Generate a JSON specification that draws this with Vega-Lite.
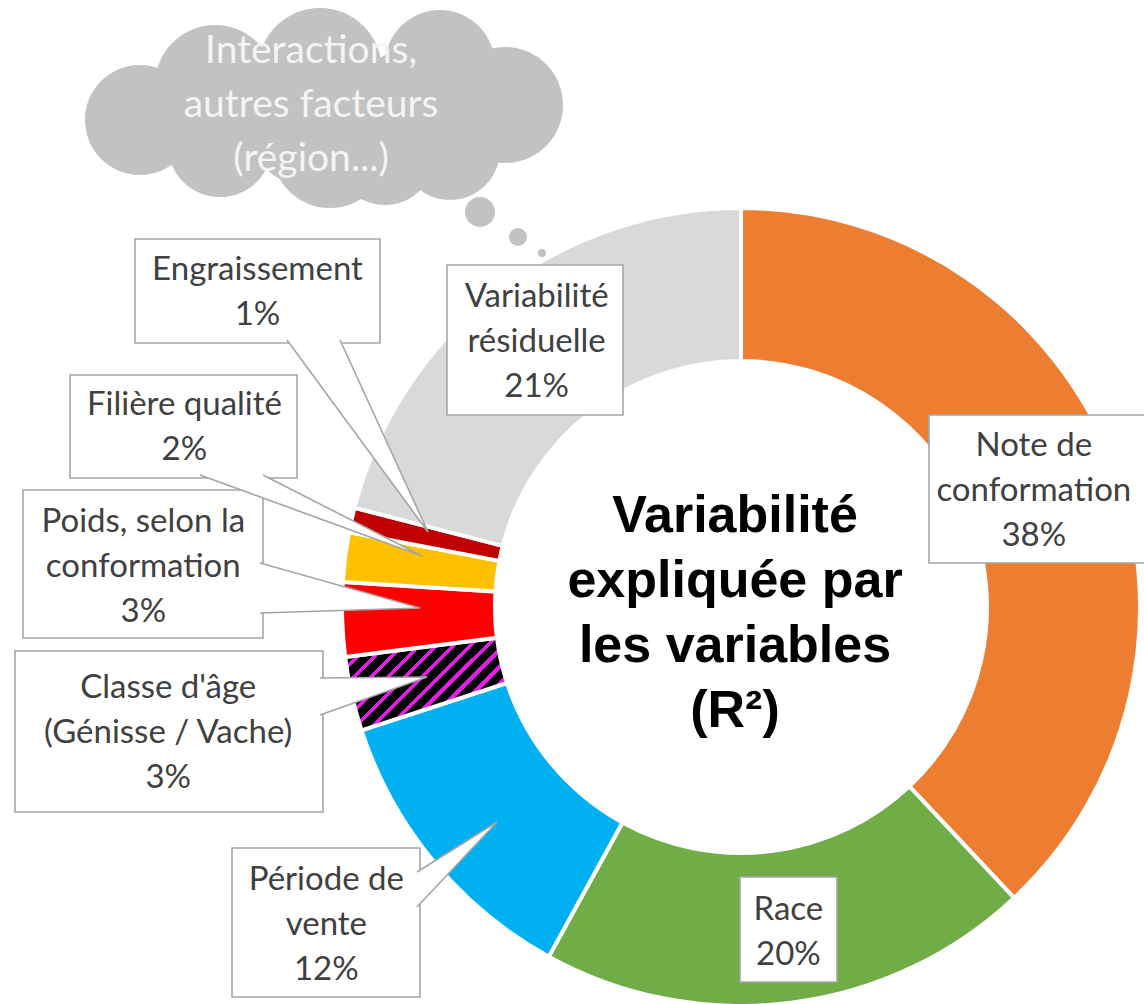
{
  "$schema": "https://vega.github.io/schema/vega-lite/v6.json",
  "width": 800,
  "height": 780,
  "autosize": "none",
  "padding": {"left": 341, "top": 217, "right": 3, "bottom": 7},
  "background": "#ffffff",
  "config": {"view": {"stroke": null}},
  "datasets": {
    "parts": [
      {"cat": "Note de conformation", "ord": 1, "value": 38, "label": "Note de\nconformation\n38%"},
      {"cat": "Race", "ord": 2, "value": 20, "label": "Race\n20%"},
      {"cat": "Période de vente", "ord": 3, "value": 12, "label": "Période de\nvente\n12%"},
      {"cat": "Classe d'âge", "ord": 4, "value": 3, "label": "Classe d'âge\n(Génisse / Vache)\n3%"},
      {"cat": "Poids, selon la conformation", "ord": 5, "value": 3, "label": "Poids, selon la\nconformation\n3%"},
      {"cat": "Filière qualité", "ord": 6, "value": 2, "label": "Filière qualité\n2%"},
      {"cat": "Engraissement", "ord": 7, "value": 1, "label": "Engraissement\n1%"},
      {"cat": "Variabilité résiduelle", "ord": 8, "value": 21, "label": "Variabilité\nrésiduelle\n21%"}
    ],
    "one": [{}]
  },
  "layer": [
    {
      "data": {"name": "parts"},
      "mark": {"type": "arc", "innerRadius": 246, "outerRadius": 399, "stroke": "#ffffff", "strokeWidth": 4},
      "encoding": {
        "theta": {"field": "value", "type": "quantitative", "stack": true},
        "order": {"field": "ord", "type": "quantitative"},
        "color": {
          "condition": {"test": "datum.ord === 4", "value": {
            "gradient": "linear", "x1": 0, "y1": 0, "x2": 1.185, "y2": 0.677,
            "stops": [
              {"offset": 0, "color": "#000000"}, {"offset": 0.0445, "color": "#000000"}, {"offset": 0.0445, "color": "#E81CE8"}, {"offset": 0.0667, "color": "#E81CE8"},
              {"offset": 0.0667, "color": "#000000"}, {"offset": 0.1111, "color": "#000000"}, {"offset": 0.1111, "color": "#E81CE8"}, {"offset": 0.1333, "color": "#E81CE8"},
              {"offset": 0.1333, "color": "#000000"}, {"offset": 0.1778, "color": "#000000"}, {"offset": 0.1778, "color": "#E81CE8"}, {"offset": 0.2, "color": "#E81CE8"},
              {"offset": 0.2, "color": "#000000"}, {"offset": 0.2445, "color": "#000000"}, {"offset": 0.2445, "color": "#E81CE8"}, {"offset": 0.2667, "color": "#E81CE8"},
              {"offset": 0.2667, "color": "#000000"}, {"offset": 0.3111, "color": "#000000"}, {"offset": 0.3111, "color": "#E81CE8"}, {"offset": 0.3333, "color": "#E81CE8"},
              {"offset": 0.3333, "color": "#000000"}, {"offset": 0.3778, "color": "#000000"}, {"offset": 0.3778, "color": "#E81CE8"}, {"offset": 0.4, "color": "#E81CE8"},
              {"offset": 0.4, "color": "#000000"}, {"offset": 0.4445, "color": "#000000"}, {"offset": 0.4445, "color": "#E81CE8"}, {"offset": 0.4667, "color": "#E81CE8"},
              {"offset": 0.4667, "color": "#000000"}, {"offset": 0.5111, "color": "#000000"}, {"offset": 0.5111, "color": "#E81CE8"}, {"offset": 0.5333, "color": "#E81CE8"},
              {"offset": 0.5333, "color": "#000000"}, {"offset": 0.5778, "color": "#000000"}, {"offset": 0.5778, "color": "#E81CE8"}, {"offset": 0.6, "color": "#E81CE8"},
              {"offset": 0.6, "color": "#000000"}, {"offset": 0.6445, "color": "#000000"}, {"offset": 0.6445, "color": "#E81CE8"}, {"offset": 0.6667, "color": "#E81CE8"},
              {"offset": 0.6667, "color": "#000000"}, {"offset": 0.7111, "color": "#000000"}, {"offset": 0.7111, "color": "#E81CE8"}, {"offset": 0.7333, "color": "#E81CE8"},
              {"offset": 0.7333, "color": "#000000"}, {"offset": 0.7778, "color": "#000000"}, {"offset": 0.7778, "color": "#E81CE8"}, {"offset": 0.8, "color": "#E81CE8"},
              {"offset": 0.8, "color": "#000000"}, {"offset": 0.8445, "color": "#000000"}, {"offset": 0.8445, "color": "#E81CE8"}, {"offset": 0.8667, "color": "#E81CE8"},
              {"offset": 0.8667, "color": "#000000"}, {"offset": 0.9111, "color": "#000000"}, {"offset": 0.9111, "color": "#E81CE8"}, {"offset": 0.9333, "color": "#E81CE8"},
              {"offset": 0.9333, "color": "#000000"}, {"offset": 0.9778, "color": "#000000"}, {"offset": 0.9778, "color": "#E81CE8"}, {"offset": 1, "color": "#E81CE8"}
            ]
          }},
          "field": "cat", "type": "nominal",
          "scale": {
            "domain": ["Note de conformation", "Race", "Période de vente", "Classe d'âge", "Poids, selon la conformation", "Filière qualité", "Engraissement", "Variabilité résiduelle"],
            "range": ["#ED7D31", "#70AD47", "#00B0F0", "#000000", "#FF0000", "#FFC000", "#C00000", "#D9D9D9"]
          },
          "legend": null
        }
      }
    },
    {"data": {"name": "one"}, "mark": {"type": "rect", "fill": "#ffffff", "stroke": "#a5a5a5", "strokeWidth": 1.6}, "encoding": {"x": {"datum": 0.47, "type": "quantitative", "scale": {"domain": [-1, 1], "nice": false, "zero": false}, "axis": null}, "x2": {"datum": 1.0225}, "y": {"datum": 0.48, "type": "quantitative", "scale": {"domain": [-0.975, 0.975], "nice": false, "zero": false}, "axis": null}, "y2": {"datum": 0.11}}},
    {"data": {"name": "one"}, "mark": {"type": "rect", "fill": "#ffffff", "stroke": "#a5a5a5", "strokeWidth": 1.6}, "encoding": {"x": {"datum": -0.0025, "type": "quantitative", "scale": {"domain": [-1, 1], "nice": false, "zero": false}, "axis": null}, "x2": {"datum": 0.24}, "y": {"datum": -0.675, "type": "quantitative", "scale": {"domain": [-0.975, 0.975], "nice": false, "zero": false}, "axis": null}, "y2": {"datum": -0.9375}}},
    {"data": {"name": "one"}, "mark": {"type": "rect", "fill": "#ffffff", "stroke": "#a5a5a5", "strokeWidth": 1.6}, "encoding": {"x": {"datum": -0.735, "type": "quantitative", "scale": {"domain": [-1, 1], "nice": false, "zero": false}, "axis": null}, "x2": {"datum": -0.295}, "y": {"datum": 0.855, "type": "quantitative", "scale": {"domain": [-0.975, 0.975], "nice": false, "zero": false}, "axis": null}, "y2": {"datum": 0.48}}},
    {"data": {"name": "one"}, "mark": {"type": "rect", "fill": "#ffffff", "stroke": "#a5a5a5", "strokeWidth": 1.6}, "encoding": {"x": {"datum": -1.515, "type": "quantitative", "scale": {"domain": [-1, 1], "nice": false, "zero": false}, "axis": null}, "x2": {"datum": -0.9025}, "y": {"datum": 0.92, "type": "quantitative", "scale": {"domain": [-0.975, 0.975], "nice": false, "zero": false}, "axis": null}, "y2": {"datum": 0.66}}},
    {"data": {"name": "one"}, "mark": {"type": "rect", "fill": "#ffffff", "stroke": "#a5a5a5", "strokeWidth": 1.6}, "encoding": {"x": {"datum": -1.6775, "type": "quantitative", "scale": {"domain": [-1, 1], "nice": false, "zero": false}, "axis": null}, "x2": {"datum": -1.11}, "y": {"datum": 0.58, "type": "quantitative", "scale": {"domain": [-0.975, 0.975], "nice": false, "zero": false}, "axis": null}, "y2": {"datum": 0.3225}}},
    {"data": {"name": "one"}, "mark": {"type": "rect", "fill": "#ffffff", "stroke": "#a5a5a5", "strokeWidth": 1.6}, "encoding": {"x": {"datum": -1.795, "type": "quantitative", "scale": {"domain": [-1, 1], "nice": false, "zero": false}, "axis": null}, "x2": {"datum": -1.195}, "y": {"datum": 0.2925, "type": "quantitative", "scale": {"domain": [-0.975, 0.975], "nice": false, "zero": false}, "axis": null}, "y2": {"datum": -0.0775}}},
    {"data": {"name": "one"}, "mark": {"type": "rect", "fill": "#ffffff", "stroke": "#a5a5a5", "strokeWidth": 1.6}, "encoding": {"x": {"datum": -1.815, "type": "quantitative", "scale": {"domain": [-1, 1], "nice": false, "zero": false}, "axis": null}, "x2": {"datum": -1.045}, "y": {"datum": -0.11, "type": "quantitative", "scale": {"domain": [-0.975, 0.975], "nice": false, "zero": false}, "axis": null}, "y2": {"datum": -0.5125}}},
    {"data": {"name": "one"}, "mark": {"type": "rect", "fill": "#ffffff", "stroke": "#a5a5a5", "strokeWidth": 1.6}, "encoding": {"x": {"datum": -1.2725, "type": "quantitative", "scale": {"domain": [-1, 1], "nice": false, "zero": false}, "axis": null}, "x2": {"datum": -0.8025}, "y": {"datum": -0.6025, "type": "quantitative", "scale": {"domain": [-0.975, 0.975], "nice": false, "zero": false}, "axis": null}, "y2": {"datum": -0.975}}},
    {"data": {"name": "one"}, "mark": {"type": "point", "shape": "M-0.3525,-0.48L0,0L-0.22,-0.48", "filled": true, "fill": "#ffffff", "stroke": "#a5a5a5", "strokeWidth": 1.6, "opacity": 1, "size": 640000}, "encoding": {"x": {"datum": -0.7825, "type": "quantitative", "scale": {"domain": [-1, 1], "nice": false, "zero": false}, "axis": null}, "y": {"datum": 0.1875, "type": "quantitative", "scale": {"domain": [-0.975, 0.975], "nice": false, "zero": false}, "axis": null}}},
    {"data": {"name": "one"}, "mark": {"type": "point", "shape": "M-0.555,-0.2025L0,0L-0.3975,-0.2025", "filled": true, "fill": "#ffffff", "stroke": "#a5a5a5", "strokeWidth": 1.6, "opacity": 1, "size": 640000}, "encoding": {"x": {"datum": -0.7975, "type": "quantitative", "scale": {"domain": [-1, 1], "nice": false, "zero": false}, "axis": null}, "y": {"datum": 0.1275, "type": "quantitative", "scale": {"domain": [-0.975, 0.975], "nice": false, "zero": false}, "axis": null}}},
    {"data": {"name": "one"}, "mark": {"type": "point", "shape": "M-0.4,-0.1125L0,0L-0.4,0.0125", "filled": true, "fill": "#ffffff", "stroke": "#a5a5a5", "strokeWidth": 1.6, "opacity": 1, "size": 640000}, "encoding": {"x": {"datum": -0.8025, "type": "quantitative", "scale": {"domain": [-1, 1], "nice": false, "zero": false}, "axis": null}, "y": {"datum": -0.0025, "type": "quantitative", "scale": {"domain": [-0.975, 0.975], "nice": false, "zero": false}, "axis": null}}},
    {"data": {"name": "one"}, "mark": {"type": "point", "shape": "M-0.2675,0.0025L0,0L-0.2675,0.095", "filled": true, "fill": "#ffffff", "stroke": "#a5a5a5", "strokeWidth": 1.6, "opacity": 1, "size": 640000}, "encoding": {"x": {"datum": -0.785, "type": "quantitative", "scale": {"domain": [-1, 1], "nice": false, "zero": false}, "axis": null}, "y": {"datum": -0.175, "type": "quantitative", "scale": {"domain": [-0.975, 0.975], "nice": false, "zero": false}, "axis": null}}},
    {"data": {"name": "one"}, "mark": {"type": "point", "shape": "M-0.2,0.125L0,0L-0.2,0.2125", "filled": true, "fill": "#ffffff", "stroke": "#a5a5a5", "strokeWidth": 1.6, "opacity": 1, "size": 640000}, "encoding": {"x": {"datum": -0.61, "type": "quantitative", "scale": {"domain": [-1, 1], "nice": false, "zero": false}, "axis": null}, "y": {"datum": -0.5375, "type": "quantitative", "scale": {"domain": [-0.975, 0.975], "nice": false, "zero": false}, "axis": null}}},
    {"data": {"name": "one"}, "mark": {"type": "point", "shape": "M-1,0.058a0.229,0.229 0 1,0 0.458,0a0.229,0.229 0 1,0 -0.458,0ZM-0.708,-0.0875a0.25,0.25 0 1,0 0.5,0a0.25,0.25 0 1,0 -0.5,0ZM-0.279,-0.15a0.258,0.258 0 1,0 0.516,0a0.258,0.258 0 1,0 -0.516,0ZM0.25,-0.171a0.229,0.229 0 1,0 0.458,0a0.229,0.229 0 1,0 -0.458,0ZM0.508,-0.004a0.242,0.242 0 1,0 0.484,0a0.242,0.242 0 1,0 -0.484,0ZM0.313,0.183a0.208,0.208 0 1,0 0.416,0a0.208,0.208 0 1,0 -0.416,0ZM-0.221,0.183a0.242,0.242 0 1,0 0.484,0a0.242,0.242 0 1,0 -0.484,0ZM-0.6545,0.1625a0.217,0.217 0 1,0 0.434,0a0.217,0.217 0 1,0 -0.434,0ZM-0.354,0.017a0.333,0.333 0 1,0 0.666,0a0.333,0.333 0 1,0 -0.666,0ZM0.096,0.025a0.258,0.258 0 1,0 0.516,0a0.258,0.258 0 1,0 -0.516,0ZM0.042,0.204a0.208,0.208 0 1,0 0.416,0a0.208,0.208 0 1,0 -0.416,0Z", "filled": true, "fill": "#C2C2C2", "strokeWidth": 0, "opacity": 1, "size": 230400}, "encoding": {"x": {"datum": -1.04, "type": "quantitative", "scale": {"domain": [-1, 1], "nice": false, "zero": false}, "axis": null}, "y": {"datum": 1.2525, "type": "quantitative", "scale": {"domain": [-0.975, 0.975], "nice": false, "zero": false}, "axis": null}}},
    {"data": {"name": "one"}, "mark": {"type": "point", "shape": "circle", "filled": true, "fill": "#C2C2C2", "strokeWidth": 0, "opacity": 1, "size": 900}, "encoding": {"x": {"datum": -0.6525, "type": "quantitative", "scale": {"domain": [-1, 1], "nice": false, "zero": false}, "axis": null}, "y": {"datum": 0.9875, "type": "quantitative", "scale": {"domain": [-0.975, 0.975], "nice": false, "zero": false}, "axis": null}}},
    {"data": {"name": "one"}, "mark": {"type": "point", "shape": "circle", "filled": true, "fill": "#C2C2C2", "strokeWidth": 0, "opacity": 1, "size": 324}, "encoding": {"x": {"datum": -0.5575, "type": "quantitative", "scale": {"domain": [-1, 1], "nice": false, "zero": false}, "axis": null}, "y": {"datum": 0.925, "type": "quantitative", "scale": {"domain": [-0.975, 0.975], "nice": false, "zero": false}, "axis": null}}},
    {"data": {"name": "one"}, "mark": {"type": "point", "shape": "circle", "filled": true, "fill": "#C2C2C2", "strokeWidth": 0, "opacity": 1, "size": 64}, "encoding": {"x": {"datum": -0.4975, "type": "quantitative", "scale": {"domain": [-1, 1], "nice": false, "zero": false}, "axis": null}, "y": {"datum": 0.885, "type": "quantitative", "scale": {"domain": [-0.975, 0.975], "nice": false, "zero": false}, "axis": null}}},
    {
      "data": {"name": "parts"},
      "encoding": {
        "theta": {"field": "value", "type": "quantitative", "stack": true},
        "order": {"field": "ord", "type": "quantitative"},
        "detail": {"field": "cat", "type": "nominal"}
      },
      "layer": [
        {"mark": {"type": "text", "font": "Lato", "fontSize": 33, "lineHeight": 45, "lineBreak": "\n", "align": "center", "baseline": "top", "radius": 330, "dx": -14, "dy": -56, "color": "#404040"}, "encoding": {"text": {"condition": {"test": "datum.ord === 1", "field": "label"}, "value": ""}}},
        {"mark": {"type": "text", "font": "Lato", "fontSize": 33, "lineHeight": 45, "lineBreak": "\n", "align": "center", "baseline": "top", "radius": 330, "dx": 6, "dy": -40, "color": "#404040"}, "encoding": {"text": {"condition": {"test": "datum.ord === 2", "field": "label"}, "value": ""}}},
        {"mark": {"type": "text", "font": "Lato", "fontSize": 33, "lineHeight": 45, "lineBreak": "\n", "align": "center", "baseline": "top", "radius": 520, "dx": -14, "dy": -74, "color": "#404040"}, "encoding": {"text": {"condition": {"test": "datum.ord === 3", "field": "label"}, "value": ""}}},
        {"mark": {"type": "text", "font": "Lato", "fontSize": 33, "lineHeight": 45, "lineBreak": "\n", "align": "center", "baseline": "top", "radius": 590, "dx": 3, "dy": -64, "color": "#404040"}, "encoding": {"text": {"condition": {"test": "datum.ord === 4", "field": "label"}, "value": ""}}},
        {"mark": {"type": "text", "font": "Lato", "fontSize": 33, "lineHeight": 45, "lineBreak": "\n", "align": "center", "baseline": "top", "radius": 600, "dx": 2, "dy": -120, "color": "#404040"}, "encoding": {"text": {"condition": {"test": "datum.ord === 5", "field": "label"}, "value": ""}}},
        {"mark": {"type": "text", "font": "Lato", "fontSize": 33, "lineHeight": 45, "lineBreak": "\n", "align": "center", "baseline": "top", "radius": 560, "dx": -1, "dy": -148, "color": "#404040"}, "encoding": {"text": {"condition": {"test": "datum.ord === 6", "field": "label"}, "value": ""}}},
        {"mark": {"type": "text", "font": "Lato", "fontSize": 33, "lineHeight": 45, "lineBreak": "\n", "align": "center", "baseline": "top", "radius": 520, "dx": 24, "dy": -240, "color": "#404040"}, "encoding": {"text": {"condition": {"test": "datum.ord === 7", "field": "label"}, "value": ""}}},
        {"mark": {"type": "text", "font": "Lato", "fontSize": 33, "lineHeight": 45, "lineBreak": "\n", "align": "center", "baseline": "top", "radius": 340, "dx": 4, "dy": -57, "color": "#404040"}, "encoding": {"text": {"condition": {"test": "datum.ord === 8", "field": "label"}, "value": ""}}},
        {"mark": {"type": "text", "font": "Lato", "fontSize": 39, "lineHeight": 54, "lineBreak": "\n", "align": "center", "baseline": "top", "radius": 659, "dx": -26, "dy": -54, "color": "#F4F4F4"}, "encoding": {"text": {"condition": {"test": "datum.ord === 8", "value": "Interactions,\nautres facteurs\n(région...)"}, "value": ""}}}
      ]
    },
    {
      "data": {"values": [{"title": "Variabilité\nexpliquée par\nles variables\n(R²)"}]},
      "mark": {"type": "text", "font": "Liberation Sans", "fontWeight": "bold", "fontSize": 52, "lineHeight": 65, "lineBreak": "\n", "align": "center", "baseline": "top", "dx": -6, "dy": -116, "color": "#000000"},
      "encoding": {"text": {"field": "title", "type": "nominal"}}
    }
  ]
}
